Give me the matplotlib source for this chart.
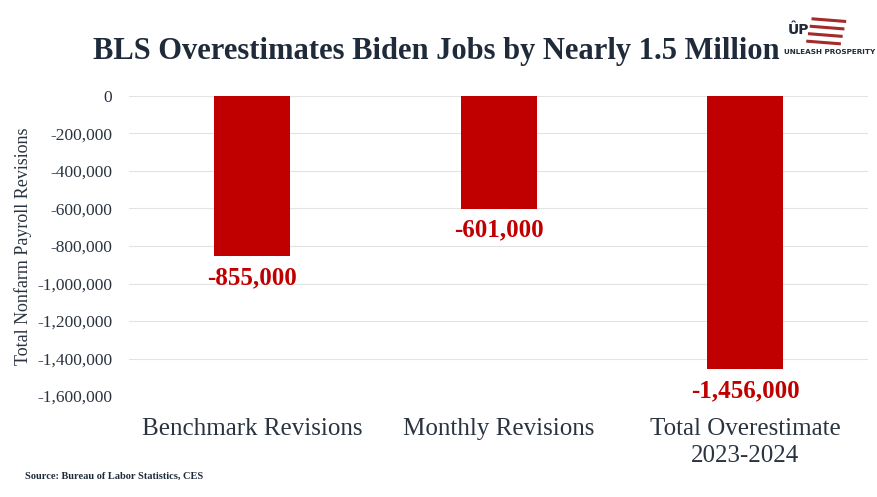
import matplotlib.pyplot as plt
from matplotlib.ticker import FuncFormatter

categories = ['Benchmark Revisions', 'Monthly Revisions', 'Total Overestimate\n2023-2024']
values = [-855000, -601000, -1456000]
yticks = [0, -200000, -400000, -600000, -800000, -1000000, -1200000, -1400000, -1600000]

plt.rcParams['font.family'] = ['Liberation Serif', 'DejaVu Serif']

navy = '#1f2b3a'
red = '#c00000'

fig = plt.figure(figsize=(8.78, 4.97), dpi=100)
ax = fig.add_axes([0.147, 0.203, 0.842, 0.604])

x = range(len(categories))
ax.bar(x, values, width=0.31, color=red, zorder=3)

for i, v in enumerate(values):
    ax.annotate(f'{v:,.0f}', (i, v), xytext=(0, -7), textcoords='offset points',
                ha='center', va='top', fontsize=18, fontweight='bold', color=red)

ax.set_ylim(-1600000, 0)
ax.set_xlim(-0.5, 2.5)
ax.set_yticks(yticks)
ax.yaxis.set_major_formatter(FuncFormatter(lambda v, p: f'{v:,.0f}'))
ax.set_xticks(list(x))
ax.set_xticklabels(categories, fontsize=18, color='#2a3440', linespacing=1.25)
ax.tick_params(axis='y', labelsize=12.5, labelcolor='#2a3440', length=0, pad=12)
ax.tick_params(axis='x', length=0, pad=16)
ax.grid(axis='y', color='#e3e3e3', linewidth=0.8, zorder=0)
for s in ax.spines.values():
    s.set_visible(False)

ax.set_ylabel('Total Nonfarm Payroll Revisions', fontsize=13, color='#2a3440', labelpad=4)

fig.text(0.497, 0.896, 'BLS Overestimates Biden Jobs by Nearly 1.5 Million',
         ha='center', va='center', fontsize=22, fontweight='bold', color=navy)
fig.text(0.028, 0.042, 'Source: Bureau of Labor Statistics, CES',
         ha='left', va='center', fontsize=7.5, fontweight='bold', color=navy)

# logo
fig.text(0.945, 0.895, 'UNLEASH PROSPERITY', ha='center', va='center',
         fontsize=5.2, fontweight='bold', color=navy, family='DejaVu Sans Condensed')
fig.text(0.91, 0.94, 'ÛP', ha='center', va='center', fontsize=10,
         fontweight='bold', color=navy, family='DejaVu Sans Condensed')
for k in range(4):
    yy = 0.962 - k * 0.015
    fig.add_artist(plt.Line2D([0.926 - k * 0.002, 0.962 - k * 0.002], [yy, yy - 0.005],
                              color='#a52a2a', linewidth=2.2))

fig.savefig('out.png', dpi=100)
